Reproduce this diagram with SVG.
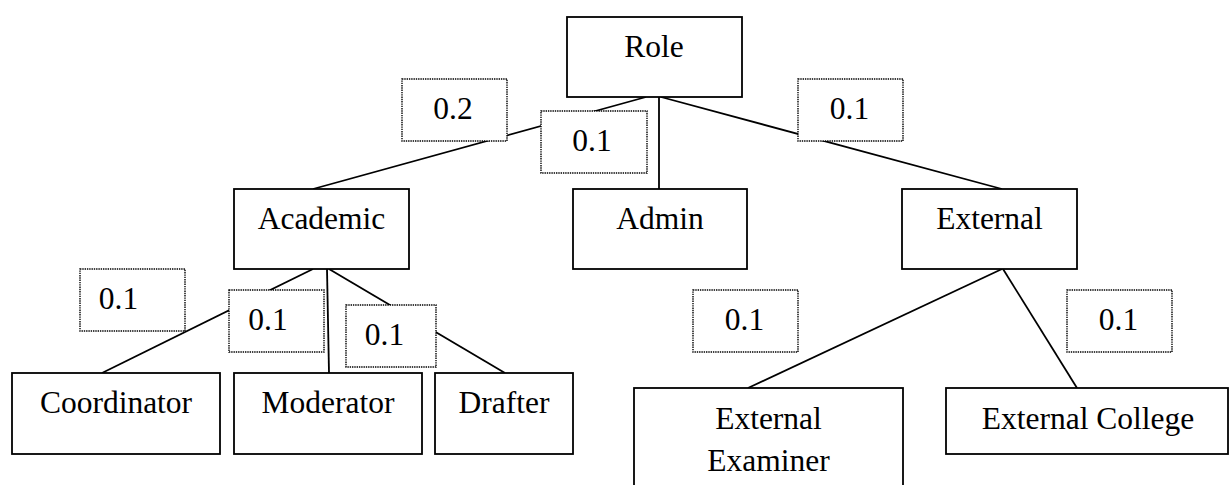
<svg xmlns="http://www.w3.org/2000/svg" width="1229" height="485" viewBox="0 0 1229 485">
  <style>
    .node rect { fill: #ffffff; stroke: #000000; stroke-width: 1.8; }
    .weight rect { fill: #ffffff; stroke: #000000; stroke-width: 1.4; stroke-dasharray: 1.4 0.9; }
    text { font-family: "Liberation Serif", "Times New Roman", Tinos, "DejaVu Serif", serif; font-size: 31.5px; fill: #000000; text-anchor: middle; }
    .edges line { stroke: #000000; stroke-width: 1.8; }
  </style>
  <rect width="1229" height="485" fill="#ffffff"/>

  <!-- hierarchy connectors -->
  <g id="connectors" class="edges">
    <line x1="646" y1="97" x2="313" y2="189"/>
    <line x1="659" y1="97" x2="659" y2="189"/>
    <line x1="661" y1="97" x2="1002" y2="189"/>
    <line x1="313" y1="269" x2="102" y2="373"/>
    <line x1="327" y1="269" x2="329" y2="373"/>
    <line x1="329" y1="269" x2="505" y2="373"/>
    <line x1="1002" y1="269" x2="748" y2="388"/>
    <line x1="1003" y1="269" x2="1077" y2="388"/>
  </g>

  <!-- weight labels (dotted text boxes) -->
  <g id="weight-academic" class="weight">
    <rect x="402" y="79" width="105" height="62"/>
    <text x="453" y="119">0.2</text>
  </g>
  <g id="weight-admin" class="weight">
    <rect x="541" y="111" width="106" height="62"/>
    <text x="592" y="151">0.1</text>
  </g>
  <g id="weight-external" class="weight">
    <rect x="798" y="79" width="105" height="62"/>
    <text x="849.5" y="119">0.1</text>
  </g>
  <g id="weight-coordinator" class="weight">
    <rect x="80" y="269" width="105" height="62"/>
    <text x="118.5" y="309">0.1</text>
  </g>
  <g id="weight-moderator" class="weight">
    <rect x="229" y="290" width="95" height="62"/>
    <text x="268" y="330">0.1</text>
  </g>
  <g id="weight-drafter" class="weight">
    <rect x="346" y="305" width="90" height="62"/>
    <text x="384.5" y="345">0.1</text>
  </g>
  <g id="weight-examiner" class="weight">
    <rect x="693" y="290" width="105" height="62"/>
    <text x="744.5" y="329.5">0.1</text>
  </g>
  <g id="weight-college" class="weight">
    <rect x="1067" y="290" width="105" height="62"/>
    <text x="1118.5" y="329.5">0.1</text>
  </g>

  <!-- role nodes -->
  <g id="node-role" class="node">
    <rect x="567" y="17" width="175" height="80"/>
    <text x="654" y="57">Role</text>
  </g>
  <g id="node-academic" class="node">
    <rect x="234" y="189" width="175" height="80"/>
    <text x="321.5" y="228.5">Academic</text>
  </g>
  <g id="node-admin" class="node">
    <rect x="573" y="189" width="174" height="80"/>
    <text x="660" y="228.5">Admin</text>
  </g>
  <g id="node-external" class="node">
    <rect x="902" y="189" width="175" height="80"/>
    <text x="989.5" y="229">External</text>
  </g>
  <g id="node-coordinator" class="node">
    <rect x="12" y="373" width="208" height="81"/>
    <text x="116" y="413">Coordinator</text>
  </g>
  <g id="node-moderator" class="node">
    <rect x="234" y="373" width="188" height="81"/>
    <text x="328" y="413">Moderator</text>
  </g>
  <g id="node-drafter" class="node">
    <rect x="435" y="373" width="138" height="81"/>
    <text x="504" y="413">Drafter</text>
  </g>
  <g id="node-external-examiner" class="node">
    <rect x="634" y="388" width="269" height="110"/>
    <text x="768.5" y="429">External</text>
    <text x="768.5" y="470.5">Examiner</text>
  </g>
  <g id="node-external-college" class="node">
    <rect x="946" y="388" width="282" height="66"/>
    <text x="1088" y="428.5">External College</text>
  </g>
</svg>
